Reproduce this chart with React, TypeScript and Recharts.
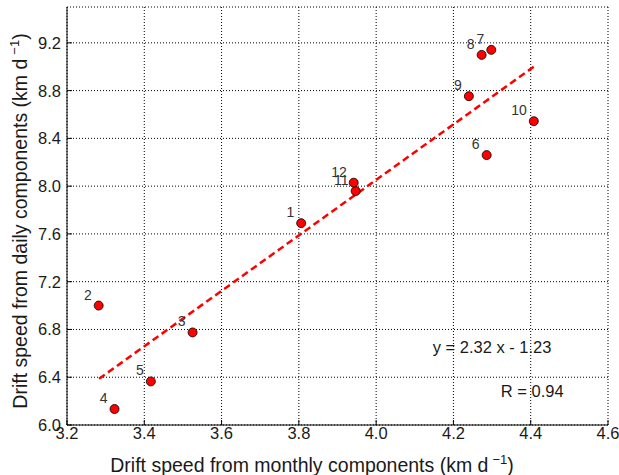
import { ScatterChart, Scatter, XAxis, YAxis, CartesianGrid, ReferenceLine, ReferenceDot, Label } from 'recharts'

const months = ['1', '2', '3', '4', '5', '6', '7', '8', '9', '10', '11', '12']
const monthlySpeed = [3.806, 3.282, 3.525, 3.323, 3.417, 4.286, 4.298, 4.273, 4.24, 4.408, 3.947, 3.942]
const dailySpeed = [7.69, 7.0, 6.775, 6.134, 6.365, 8.26, 9.141, 9.099, 8.753, 8.544, 7.959, 8.029]
const fitX = [3.283, 4.408]
const fitY = [6.387, 9.0]
const xTicks = [3.2, 3.4, 3.6, 3.8, 4.0, 4.2, 4.4, 4.6]
const yTicks = [6.0, 6.4, 6.8, 7.2, 7.6, 8.0, 8.4, 8.8, 9.2]

const FONT = '"Liberation Sans", Arial, sans-serif'
const TEXT = '#1a1a1a'

const data = months.map((m, i) => ({ month: m, x: monthlySpeed[i], y: dailySpeed[i] }))

type TickProps = { x: number; y: number; payload: { value: number } }

const BottomTick = ({ x, y, payload }: TickProps) => (
  <g>
    <line x1={x} x2={x} y1={y} y2={y - 5} stroke="#000" />
    <text x={x} y={y + 14} textAnchor="middle" fontSize={16.5} fill={TEXT} fontFamily={FONT}>{payload.value.toFixed(1)}</text>
  </g>
)
const LeftTick = ({ x, y, payload }: TickProps) => (
  <g>
    <line x1={x} x2={x + 5} y1={y} y2={y} stroke="#000" />
    <text x={x - 6} y={y} dy="0.36em" textAnchor="end" fontSize={16.5} fill={TEXT} fontFamily={FONT}>{payload.value.toFixed(1)}</text>
  </g>
)
const TopTick = ({ x, y }: TickProps) => <line x1={x} x2={x} y1={y} y2={y + 5} stroke="#000" />
const RightTick = ({ x, y }: TickProps) => <line x1={x} x2={x - 5} y1={y} y2={y} stroke="#000" />

function Point(p: { cx?: number; cy?: number; payload?: { month: string } }) {
  const cx = p.cx ?? 0
  const cy = p.cy ?? 0
  return (
    <g>
      <circle cx={cx} cy={cy} r={4.5} fill="#ff0000" stroke="#000" strokeWidth={0.8} />
      <text x={cx - 7} y={cy - 11} dy="0.36em" textAnchor="end" fontSize={14} fill="#333" fontFamily={FONT}>{p.payload?.month}</text>
    </g>
  )
}

const unit = (
  <>
    (km d<tspan dx={4} dy={-8} fontSize={13}>−1</tspan><tspan dy={8}>)</tspan>
  </>
)

export default function App() {
  return (
    <div style={{ position: 'absolute', left: 0, top: 0, width: 619, height: 475, background: '#fff' }}>
      <ScatterChart width={619} height={475} margin={{ top: 7, right: 11, bottom: 0, left: 0 }}>
        <CartesianGrid stroke="#000" strokeDasharray="1 2" strokeWidth={1} />
        <XAxis type="number" dataKey="x" domain={[3.2, 4.6]} ticks={xTicks} height={50} stroke="#000"
          tickLine={false} tickSize={0} tickMargin={0} tick={BottomTick} interval={0}>
          <Label content={() => (
            <text x={312} y={465} dy="0.36em" textAnchor="middle" fontSize={19.5} fill={TEXT} fontFamily={FONT}>
              Drift speed from monthly components {unit}
            </text>
          )} />
        </XAxis>
        <XAxis xAxisId="top" orientation="top" type="number" dataKey="x" domain={[3.2, 4.6]} ticks={xTicks} height={0}
          stroke="#000" tickLine={false} tickSize={0} tickMargin={0} tick={TopTick} interval={0} />
        <YAxis type="number" dataKey="y" domain={[6, 9.5]} ticks={yTicks} width={67} stroke="#000"
          tickLine={false} tickSize={0} tickMargin={0} tick={LeftTick} interval={0}>
          <Label content={() => (
            <text transform="translate(20,221) rotate(-90)" dy="0.36em" textAnchor="middle" fontSize={19.5} fill={TEXT} fontFamily={FONT}>
              Drift speed from daily components {unit}
            </text>
          )} />
        </YAxis>
        <YAxis yAxisId="right" orientation="right" type="number" dataKey="y" domain={[6, 9.5]} ticks={yTicks} width={0}
          stroke="#000" tickLine={false} tickSize={0} tickMargin={0} tick={RightTick} interval={0} />
        <ReferenceLine segment={[{ x: fitX[0], y: fitY[0] }, { x: fitX[1], y: fitY[1] }]} stroke="#ff0000"
          strokeWidth={2.5} strokeDasharray="7 4" ifOverflow="visible" />
        <Scatter data={data} shape={Point} isAnimationActive={false} />
        <ReferenceDot x={4.3} y={6.652} r={0} stroke="none"
          label={{ value: 'y = 2.32 x - 1.23', position: 'center', fontSize: 16.5, fill: TEXT, fontFamily: FONT }} />
        <ReferenceDot x={4.404} y={6.287} r={0} stroke="none"
          label={{ value: 'R = 0.94', position: 'center', fontSize: 16.5, fill: TEXT, fontFamily: FONT }} />
      </ScatterChart>
    </div>
  )
}
